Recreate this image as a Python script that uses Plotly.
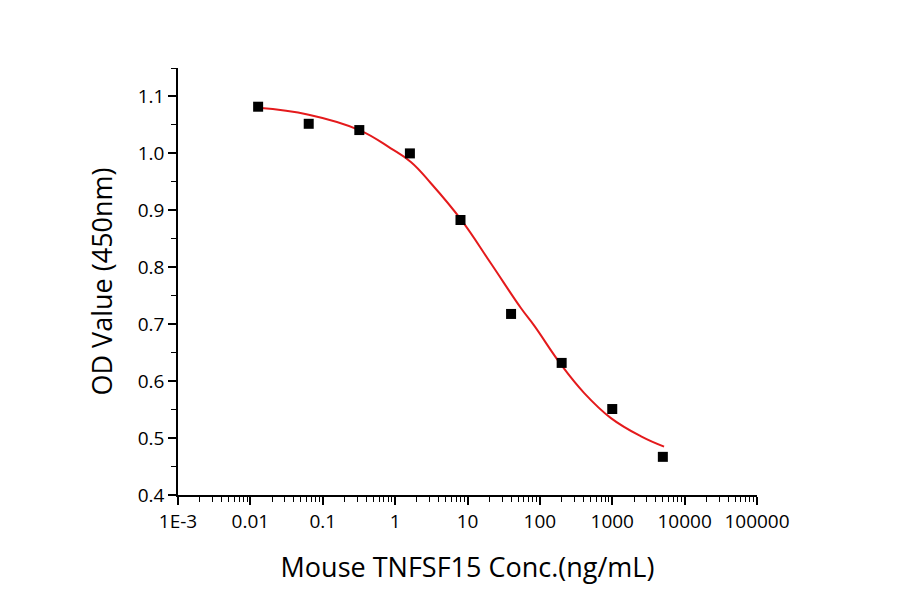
import plotly.graph_objects as go

# Measured data points
conc = [0.0128, 0.064, 0.32, 1.6, 8, 40, 200, 1000, 5000]
od = [1.082, 1.052, 1.041, 1.000, 0.883, 0.718, 0.632, 0.551, 0.467]

# Fitted curve
curve_x = [0.0128, 0.064, 0.32, 0.87, 1.65, 3.1, 8.1, 21, 55, 84, 196, 410, 960, 2500, 5200]
curve_y = [1.080, 1.068, 1.041, 1.009, 0.985, 0.948, 0.884, 0.807, 0.728, 0.697, 0.629, 0.579, 0.535, 0.503, 0.485]

tick_vals = [0.001, 0.01, 0.1, 1, 10, 100, 1000, 10000, 100000]
tick_text = ["1E-3", "0.01", "0.1", "1", "10", "100", "1000", "10000", "100000"]
y_ticks = [0.4, 0.5, 0.6, 0.7, 0.8, 0.9, 1.0, 1.1]

font_family = "Open Sans"

fig = go.Figure()
fig.add_trace(go.Scatter(x=curve_x, y=curve_y, mode="lines",
                         line=dict(color="#e41a1c", width=2, shape="spline", smoothing=1.2),
                         hoverinfo="skip", showlegend=False))
fig.add_trace(go.Scatter(x=conc, y=od, mode="markers",
                         marker=dict(symbol="square", size=10, color="black"),
                         showlegend=False))

fig.update_layout(
    width=900, height=594, autosize=False,
    margin=dict(l=170, r=151, t=60, b=107),
    paper_bgcolor="white", plot_bgcolor="white",
    font=dict(family=font_family, color="black"),
)
fig.update_xaxes(
    type="log", range=[-3, 5],
    tickvals=tick_vals, ticktext=tick_text,
    tickfont=dict(size=19, family=font_family),
    ticks="outside", ticklen=8, tickwidth=1.5, tickcolor="black",
    showline=True, linecolor="black", linewidth=1.5,
    showgrid=False, zeroline=False,
    minor=dict(dtick="D1", ticks="outside", ticklen=5, tickwidth=1.2, tickcolor="black", showgrid=False),
    title=dict(text="Mouse TNFSF15 Conc.(ng/mL)", font=dict(size=27, family=font_family), standoff=26),
)
fig.update_yaxes(
    range=[0.4, 1.15],
    tickvals=y_ticks, ticktext=[f"{v:.1f}" for v in y_ticks],
    tickfont=dict(size=19, family=font_family),
    ticks="outside", ticklen=8, tickwidth=1.5, tickcolor="black",
    showline=True, linecolor="black", linewidth=1.5,
    showgrid=False, zeroline=False,
    minor=dict(dtick=0.05, ticks="outside", ticklen=5, tickwidth=1.2, tickcolor="black", showgrid=False),
    title=dict(text="OD Value (450nm)", font=dict(size=27, family=font_family), standoff=17),
)

fig.write_html("out.html")
